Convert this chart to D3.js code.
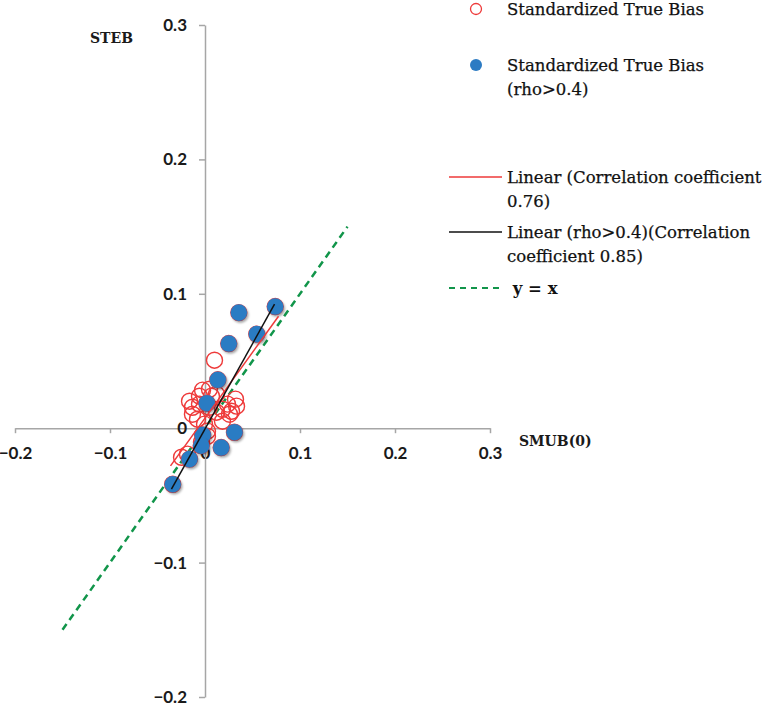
<!DOCTYPE html>
<html>
<head>
<meta charset="utf-8">
<script src="https://cdn.jsdelivr.net/npm/d3@7"></script>
<style>
  body { margin: 0; background: #fff; }
  svg { display: block; }
</style>
</head>
<body>
<svg id="chart" width="770" height="706"></svg>
<script>
// all studies (standardized true bias vs SMUB(0))
const allX = [0.010, -0.0026, 0.0047, -0.0163, -0.0058, 0.0068, -0.0132, -0.0058, 0.0047, -0.0132,
  -0.0079, 0.0121, 0.0184, 0.0184, 0.0237, 0.0258, 0.0332, 0.0321, 0.0279, -0.0005,
  0.0026, 0.0026, -0.0037, -0.0247, -0.0184, 0.0121,
  0.0356, 0.0739, 0.0545, 0.025, 0.0135, 0.002, -0.0025, -0.004, 0.031, 0.017, -0.0163, -0.034];
const allY = [0.0506, 0.0283, 0.029, 0.0201, 0.0238, 0.0238, 0.0156, 0.0179, 0.0156, 0.0104,
  0.0067, 0.0119, 0.0141, 0.0052, 0.0179, 0.0104, 0.0164, 0.0216, 0.0126, 0.003,
  -0.0022, -0.006, -0.0104, -0.0216, -0.0193, 0.0253,
  0.086, 0.0905, 0.070, 0.063, 0.036, 0.0186, -0.005, -0.013, -0.003, -0.0144, -0.023, -0.0417];

// subset rho > 0.4
const rhoX = [0.0356, 0.0739, 0.0545, 0.025, 0.0135, 0.002, -0.0025, -0.004, 0.031, 0.017, -0.0163, -0.034];
const rhoY = [0.086, 0.0905, 0.070, 0.063, 0.036, 0.0186, -0.005, -0.013, -0.003, -0.0144, -0.023, -0.0417];

// trend lines (endpoints)
const trendAll = [[-0.0363, -0.028], [0.0774, 0.0833]];
const trendRho = [[-0.0353, -0.0454], [0.0732, 0.0923]];
const identity = [[-0.15, -0.15], [0.15, 0.15]];

const xTicks = [-0.2, -0.1, 0, 0.1, 0.2, 0.3];
const yTicks = [-0.2, -0.1, 0, 0.1, 0.2, 0.3];

const legendItems = [
  { type: "open", lines: ["Standardized True Bias"] },
  { type: "filled", lines: ["Standardized True Bias", "(rho>0.4)"] },
  { type: "red", lines: ["Linear (Correlation coefficient", "0.76)"] },
  { type: "black", lines: ["Linear (rho>0.4)(Correlation", "coefficient 0.85)"] },
  { type: "dash", lines: [" y = x"] }
];

const RED = "#ee3a3a";
const BLUE = "#2c7bc3";
const GREEN = "#11954a";
const AXIS = "#a6a6a6";
const tickFont = "Lato, 'Open Sans', sans-serif";
const serif = "'DejaVu Serif', serif";

const svg = d3.select("#chart");

const x = d3.scaleLinear().domain([-0.2, 0.3]).range([15, 490]);
const y = d3.scaleLinear().domain([-0.2, 0.3]).range([697, 25]);

// drop shadow for the filled markers
const defs = svg.append("defs");
defs.append("filter")
  .attr("id", "shadow")
  .attr("x", "-50%").attr("y", "-50%")
  .attr("width", "200%").attr("height", "200%")
  .append("feDropShadow")
  .attr("dx", 1.5).attr("dy", 2)
  .attr("stdDeviation", 1.3)
  .attr("flood-color", "#000")
  .attr("flood-opacity", 0.35);

// X axis through y = 0
const xAxis = svg.append("g")
  .attr("transform", `translate(0,${y(0)})`)
  .call(d3.axisBottom(x).tickValues(xTicks).tickSize(5).tickSizeOuter(0).tickFormat(d3.format("")));
xAxis.select(".domain").attr("stroke", AXIS).attr("stroke-width", 1.5);
xAxis.selectAll("line").attr("stroke", AXIS).attr("stroke-width", 1.5);
xAxis.selectAll("text")
  .attr("y", 19)
  .attr("dy", "0.71em")
  .style("font-family", tickFont)
  .style("font-size", "17px")
  .style("font-weight", 700)
  .style("fill", "#1a1a1a");

// Y axis through x = 0
const yAxis = svg.append("g")
  .attr("transform", `translate(${x(0)},0)`)
  .call(d3.axisLeft(y).tickValues(yTicks).tickSize(6).tickSizeOuter(0).tickFormat(d3.format("")));
yAxis.select(".domain").attr("stroke", AXIS).attr("stroke-width", 1.5);
yAxis.selectAll("line").attr("stroke", AXIS).attr("stroke-width", 1.5);
yAxis.selectAll("text")
  .attr("x", -18)
  .style("font-family", tickFont)
  .style("font-size", "17px")
  .style("font-weight", 700)
  .style("fill", "#1a1a1a");

// axis titles
svg.append("text")
  .attr("x", 90).attr("y", 43)
  .text("STEB")
  .style("font-family", serif)
  .style("font-size", "14px")
  .style("font-weight", 700)
  .style("fill", "#1a1a1a");

svg.append("text")
  .attr("x", 519).attr("y", 446)
  .text("SMUB(0)")
  .style("font-family", serif)
  .style("font-size", "14px")
  .style("font-weight", 700)
  .style("fill", "#1a1a1a");

const line = d3.line().x((d) => x(d[0])).y((d) => y(d[1]));

// y = x reference
svg.append("path")
  .datum(identity)
  .attr("fill", "none")
  .attr("stroke", GREEN)
  .attr("stroke-width", 2.5)
  .attr("stroke-dasharray", "7,5")
  .attr("d", line);

// open circles: all studies
const allData = allX.map((v, i) => ({ x: v, y: allY[i] }));
svg.selectAll(".open")
  .data(allData)
  .enter()
  .append("circle")
  .attr("class", "open")
  .attr("cx", (d) => x(d.x))
  .attr("cy", (d) => y(d.y))
  .attr("r", 8)
  .attr("fill", "none")
  .attr("stroke", RED)
  .attr("stroke-width", 1.4);

// filled circles: rho > 0.4
const rhoData = rhoX.map((v, i) => ({ x: v, y: rhoY[i] }));
svg.selectAll(".filled")
  .data(rhoData)
  .enter()
  .append("circle")
  .attr("class", "filled")
  .attr("cx", (d) => x(d.x))
  .attr("cy", (d) => y(d.y))
  .attr("r", 8.3)
  .attr("fill", BLUE)
  .attr("filter", "url(#shadow)");

// trend lines
svg.append("path")
  .datum(trendAll)
  .attr("fill", "none")
  .attr("stroke", RED)
  .attr("stroke-width", 1.5)
  .attr("d", line);

svg.append("path")
  .datum(trendRho)
  .attr("fill", "none")
  .attr("stroke", "#111")
  .attr("stroke-width", 1.5)
  .attr("d", line);

// legend
const legendY = [9, 65, 177, 232, 288];
const legend = svg.append("g");
legendItems.forEach((item, i) => {
  const g = legend.append("g").attr("transform", `translate(0,${legendY[i]})`);
  if (item.type === "open") {
    g.append("circle").attr("cx", 476).attr("cy", 0).attr("r", 5.5)
      .attr("fill", "none").attr("stroke", RED).attr("stroke-width", 1.3);
  } else if (item.type === "filled") {
    g.append("circle").attr("cx", 476).attr("cy", 0).attr("r", 6).attr("fill", BLUE);
  } else {
    g.append("line")
      .attr("x1", 449).attr("x2", item.type === "dash" ? 499 : 502)
      .attr("y1", 0).attr("y2", 0)
      .attr("stroke", item.type === "red" ? RED : item.type === "black" ? "#111" : GREEN)
      .attr("stroke-width", item.type === "dash" ? 2 : 1.3)
      .attr("stroke-dasharray", item.type === "dash" ? "6,5" : null);
  }
  item.lines.forEach((t, j) => {
    g.append("text")
      .attr("x", 507)
      .attr("y", j * 24.5)
      .attr("dy", "0.35em")
      .attr("xml:space", "preserve")
      .text(t)
      .style("font-family", serif)
      .style("font-size", "16.5px")
      .style("font-weight", item.type === "dash" ? 700 : 400)
      .style("fill", "#111")
      .style("stroke", "#111")
      .style("stroke-width", item.type === "dash" ? 0 : 0.25);
  });
});
</script>
</body>
</html>
